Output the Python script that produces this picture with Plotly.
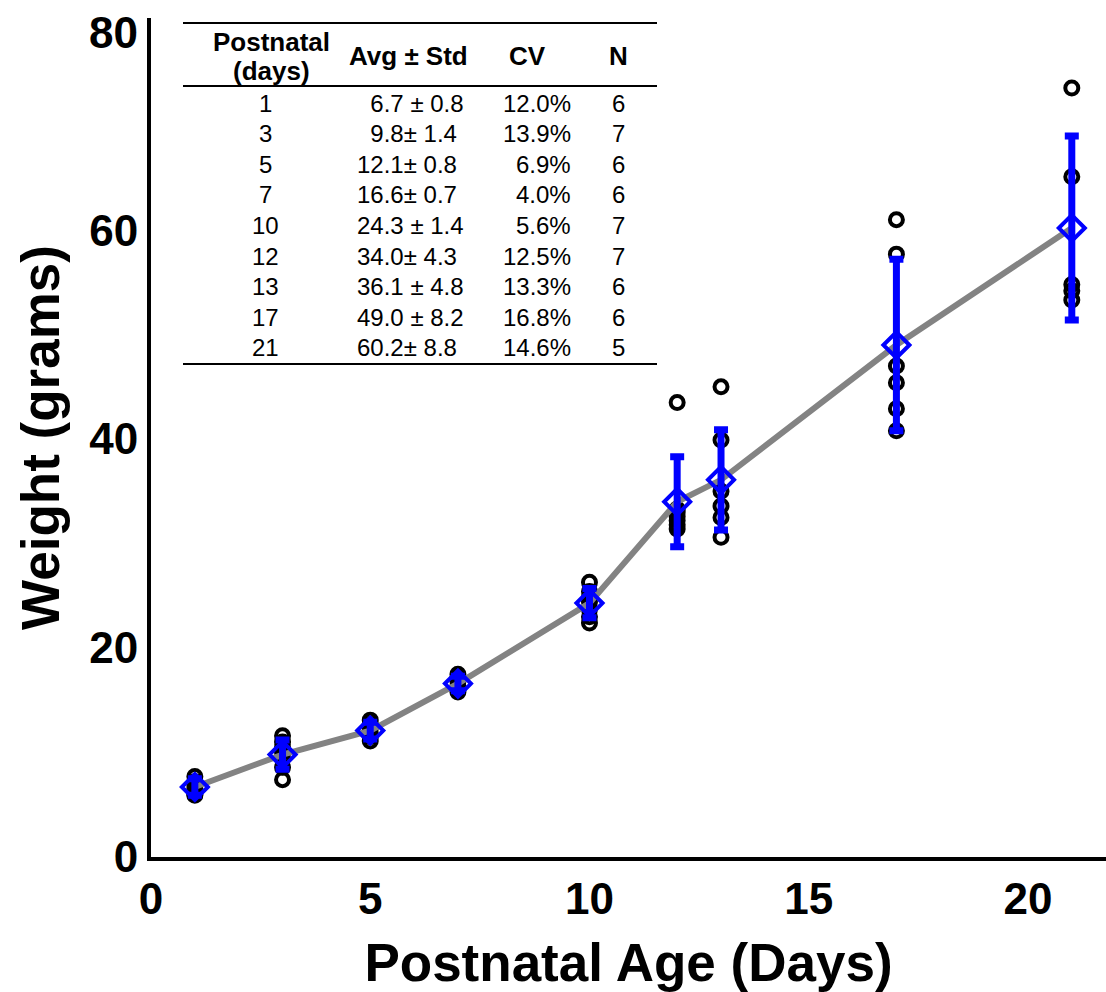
import plotly.graph_objects as go

# Summary statistics per postnatal day
days = [1, 3, 5, 7, 10, 12, 13, 17, 21]
mean_wt = [6.7, 9.8, 12.1, 16.6, 24.3, 34.0, 36.1, 49.0, 60.2]
std_wt = [0.8, 1.4, 0.8, 0.7, 1.4, 4.3, 4.8, 8.2, 8.8]
cv_pct = [12.0, 13.9, 6.9, 4.0, 5.6, 12.5, 13.3, 16.8, 14.6]
n_pups = [6, 7, 6, 6, 7, 7, 6, 6, 5]
pm_sep = [" ± ", "± ", "± ", "± ", " ± ", "± ", " ± ", " ± ", "± "]

# Individual pup weights (grams) for each day
wt_d1 = [7.7, 7.2, 6.9, 6.5, 6.0, 5.9]
wt_d3 = [11.6, 11.0, 10.5, 10.0, 9.5, 8.6, 7.4]
wt_d5 = [13.1, 12.7, 12.3, 11.9, 11.5, 11.1]
wt_d7 = [17.5, 17.1, 16.8, 16.4, 16.0, 15.8]
wt_d10 = [26.3, 25.4, 24.9, 24.4, 23.7, 23.0, 22.4]
wt_d12 = [43.5, 33.3, 33.0, 32.6, 32.2, 31.8, 31.4]
wt_d13 = [45.0, 39.9, 35.0, 33.6, 32.5, 30.6]
wt_d17 = [61.0, 57.7, 47.0, 45.4, 42.9, 40.8]
wt_d21 = [73.6, 65.1, 54.8, 54.2, 53.3]
individual = [wt_d1, wt_d3, wt_d5, wt_d7, wt_d10, wt_d12, wt_d13, wt_d17, wt_d21]

x_ticks = [0, 5, 10, 15, 20]
y_ticks = [0, 20, 40, 60, 80]

W, H = 1106, 992
ML, MR, MT, MB = 151, 0, 18, 135
PW, PH = W - ML - MR, H - MT - MB
FONT = "Liberation Sans, Arial, Helvetica, sans-serif"


def px_x(px):
    return (px - ML) / PW


def px_y(py):
    return (H - MB - py) / PH


pts_x, pts_y = [], []
for d, ws in zip(days, individual):
    pts_x += [d] * len(ws)
    pts_y += ws

fig = go.Figure()

fig.add_trace(go.Scatter(
    x=pts_x, y=pts_y, mode="markers",
    marker=dict(symbol="circle-open", size=13, color="black",
                line=dict(width=4, color="black")),
    hoverinfo="x+y", showlegend=False,
))

fig.add_trace(go.Scatter(
    x=days, y=mean_wt, mode="lines",
    line=dict(color="#838383", width=6),
    hoverinfo="skip", showlegend=False,
))

fig.add_trace(go.Scatter(
    x=days, y=mean_wt, mode="markers",
    marker=dict(symbol="diamond-open", size=20, color="#0000ff",
                line=dict(width=4, color="#0000ff")),
    error_y=dict(type="data", array=std_wt, visible=True,
                 color="#0000ff", thickness=7, width=7),
    showlegend=False,
))

tick_font = dict(family=FONT, size=44, color="black", weight="bold")

# Summary table drawn inside the plot area
tbl_font = dict(family=FONT, size=24, color="black")
hdr_font = dict(family=FONT, size=26, color="black", weight="bold")
ann = []
ann.append(dict(x=px_x(271), y=px_y(42), text="Postnatal", font=hdr_font,
                xanchor="center", yanchor="middle"))
ann.append(dict(x=px_x(271), y=px_y(71), text="(days)", font=hdr_font,
                xanchor="center", yanchor="middle"))
ann.append(dict(x=px_x(408), y=px_y(56), text="Avg ± Std", font=hdr_font,
                xanchor="center", yanchor="middle"))
ann.append(dict(x=px_x(527), y=px_y(56), text="CV", font=hdr_font,
                xanchor="center", yanchor="middle"))
ann.append(dict(x=px_x(618), y=px_y(56), text="N", font=hdr_font,
                xanchor="center", yanchor="middle"))

row0, row_step = 103, 30.6
for i, d in enumerate(days):
    py = row0 + i * row_step
    avg_txt = f"{mean_wt[i]:.1f}{pm_sep[i]}{std_wt[i]:.1f}"
    if mean_wt[i] < 10:
        avg_txt = "\u2007" + avg_txt
    ann.append(dict(x=px_x(265), y=px_y(py), text=str(d), font=tbl_font,
                    xanchor="center", yanchor="middle"))
    ann.append(dict(x=px_x(355), y=px_y(py), text=avg_txt, font=tbl_font,
                    xanchor="left", yanchor="middle"))
    ann.append(dict(x=px_x(573), y=px_y(py), text=f"{cv_pct[i]:.1f}%",
                    font=tbl_font, xanchor="right", yanchor="middle"))
    ann.append(dict(x=px_x(618), y=px_y(py), text=str(n_pups[i]),
                    font=tbl_font, xanchor="center", yanchor="middle"))

# Top y tick label, nudged down so it stays inside the page
ann.append(dict(x=px_x(140), y=px_y(33), text=str(y_ticks[-1]),
                font=tick_font, xanchor="right", yanchor="middle"))

for a in ann:
    a.update(xref="paper", yref="paper", showarrow=False)

shapes = []
for py in (23, 86, 364):
    shapes.append(dict(type="line", xref="paper", yref="paper",
                       x0=px_x(183), x1=px_x(657), y0=px_y(py), y1=px_y(py),
                       line=dict(color="black", width=2)))

fig.update_layout(
    width=W, height=H,
    margin=dict(l=ML, r=MR, t=MT, b=MB, pad=0, autoexpand=False),
    paper_bgcolor="white", plot_bgcolor="white",
    annotations=ann, shapes=shapes,
    font=dict(family=FONT, color="black"),
)

fig.update_xaxes(
    range=[0, 21.78], tickvals=x_ticks, ticktext=[str(v) for v in x_ticks],
    showgrid=False, zeroline=False, showline=True, linecolor="black",
    linewidth=4, ticks="", ticklabelstandoff=0, ticklabeloverflow="allow",
    automargin=False, tickfont=tick_font,
    title=dict(text="Postnatal Age (Days)", standoff=32,
               font=dict(family=FONT, size=53, color="black", weight="bold")),
)
fig.update_yaxes(
    range=[0, 80.3], tickvals=y_ticks[:-1],
    ticktext=[str(v) for v in y_ticks[:-1]],
    showgrid=False, zeroline=False, showline=True, linecolor="black",
    linewidth=4, ticks="", ticklabelstandoff=0, ticklabeloverflow="allow",
    automargin=False, tickfont=tick_font,
    title=dict(text="Weight (grams)", standoff=14,
               font=dict(family=FONT, size=53, color="black", weight="bold")),
)

fig.write_html("out.html")
